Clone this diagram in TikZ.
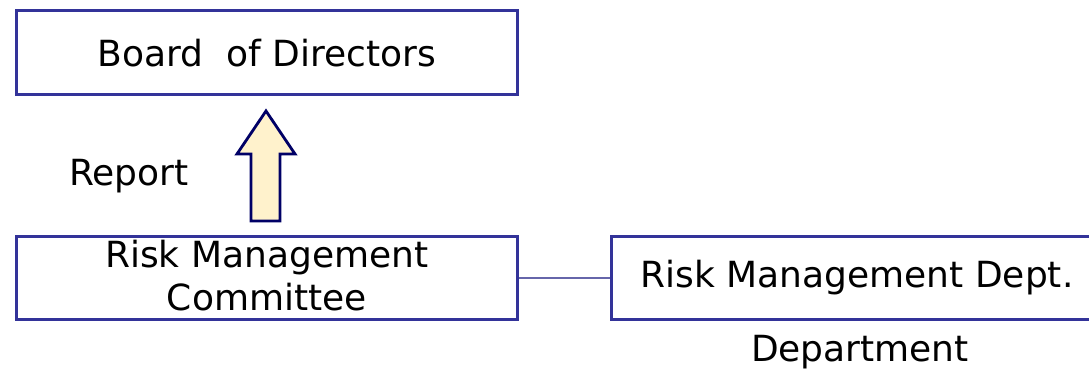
\documentclass[tikz,border=0pt]{standalone}
\usepackage{fontspec}
\setmainfont{DejaVu Sans}
\definecolor{boxline}{HTML}{333399}
\definecolor{linkline}{HTML}{6666AA}
\definecolor{arrowfill}{HTML}{FFF2CC}
\definecolor{arrowline}{HTML}{000066}
\begin{document}
\begin{tikzpicture}[x=1pt,y=-1pt,
  orgbox/.style={draw=boxline,line width=2.6pt,inner sep=0pt,anchor=north west},
  lbl/.style={font=\fontsize{36}{42}\selectfont,inner sep=0pt,align=center}]
\useasboundingbox (0,0) rectangle (1089,371);
\fill[white] (0,0) rectangle (1089,371);
\node[orgbox,minimum width=501pt,minimum height=84pt] (board) at (15,9) {};
\node[lbl] at ([yshift=-1pt]board.center) {Board\ \ of Directors};
\node[orgbox,minimum width=501pt,minimum height=83pt] (rmc) at (15,235) {};
\node[lbl,font=\fontsize{36}{43}\selectfont] at ([yshift=2pt]rmc.center) {Risk Management\\Committee};
\node[orgbox,minimum width=500pt,minimum height=83pt] (dept) at (610,235) {};
\node[lbl] at ([xshift=857pt]0,0 |- dept.center) {Risk Management Dept.};
\draw[linkline,line width=1.5pt] (rmc.east) -- (rmc.east -| dept.west);
\draw[arrowline,fill=arrowfill,line width=2.8pt,line join=miter]
  (251,221) -- (251,154) -- (237,154) -- (266,111) -- (295,154) -- (280,154) -- (280,221) -- cycle;
\node[lbl] (report) at (129,176) {Report};
\node[lbl] (deptlabel) at (860,352) {Department};
\end{tikzpicture}
\end{document}
